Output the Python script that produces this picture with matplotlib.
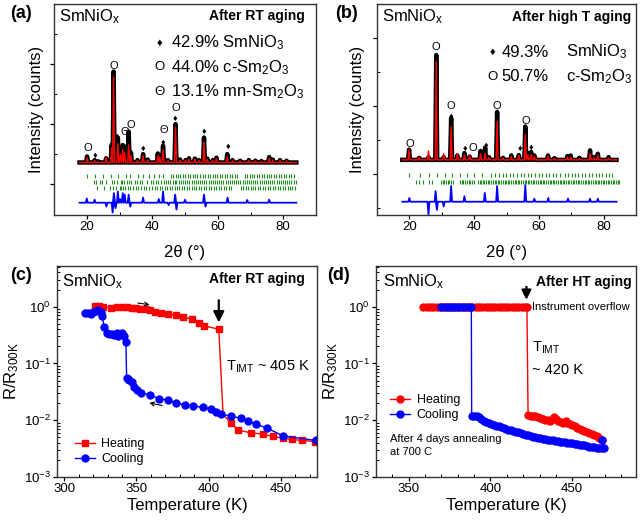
import matplotlib
matplotlib.use("Agg")
import matplotlib.pyplot as plt
from matplotlib.ticker import MultipleLocator, LogLocator, NullFormatter

plt.rcParams['font.family'] = ['Liberation Sans', 'DejaVu Sans']
plt.rcParams['mathtext.fontset'] = 'custom'
plt.rcParams['mathtext.rm'] = 'Liberation Sans'
plt.rcParams['mathtext.it'] = 'Liberation Sans:italic'
plt.rcParams['mathtext.bf'] = 'Liberation Sans:bold'

# ---------------- (a) XRD after RT aging ----------------
a_range = (17.8, 84.0)
a_bg = 0.72
a_pk_pos = [20.1, 22.4, 23.5, 25.9, 27.6, 28.2, 29.5, 30.3, 31.0, 31.6, 32.8, 33.5,
            35.5, 37.2, 38.6, 41.7, 42.3, 43.3, 44.8, 47.1, 48.5, 50.2, 51.2, 53.0,
            54.2, 55.8, 56.8, 58.5, 59.6, 62.9, 64.5, 66.8, 69.5, 71.5, 73.3, 75.7,
            76.8, 79.0, 81.0]
a_pk_obs = [0.92, 0.80, 0.76, 0.86, 1.30, 3.75, 1.55, 1.10, 1.30, 1.25, 1.75, 1.05,
            0.80, 1.00, 0.82, 1.02, 0.95, 1.28, 0.80, 2.00, 0.82, 0.80, 0.86, 0.85,
            0.80, 1.55, 0.85, 0.80, 0.88, 1.00, 0.80, 0.78, 0.80, 0.78, 0.77, 0.90,
            0.82, 0.80, 0.78]
a_pk_calc = [0.88, 0.78, 0.74, 0.88, 1.20, 3.55, 1.35, 1.00, 1.15, 1.05, 1.30, 0.95,
             0.78, 0.95, 0.80, 0.95, 0.90, 1.15, 0.78, 1.90, 0.80, 0.80, 0.82, 0.83,
             0.78, 1.40, 0.82, 0.79, 0.85, 0.92, 0.78, 0.77, 0.79, 0.77, 0.76, 0.86,
             0.80, 0.78, 0.77]
a_diff_base = -0.62
a_diff_pos = [20.0, 22.4, 26.0, 27.9, 28.3, 28.8, 29.5, 30.2, 31.0, 31.6, 32.8, 33.3,
              37.2, 42.0, 43.3, 45.0, 47.0, 47.4, 50.0, 55.8, 56.3, 63.0, 69.0, 75.7]
a_diff_val = [-0.48, -0.52, -0.75, -0.95, -0.30, -0.80, -0.25, -0.50, -0.30, -0.35,
              -0.35, -0.75, -0.45, -0.50, -0.25, -0.70, -0.35, -0.85, -0.52, -0.35,
              -0.75, -0.45, -0.53, -0.52]
a_ticks_y = [0.27, 0.08, -0.13]
a_ticks_1 = [20.1, 22.4, 24.9, 27.4, 29.6, 32.0, 33.1, 35.5, 37.3, 39.0, 40.6, 42.1,
             43.4, 45.6, 46.3, 47.1, 47.8, 48.6, 49.3, 50.1, 50.8, 51.6, 52.3, 53.1,
             53.8, 54.6, 55.4, 56.1, 56.9, 57.6, 58.4, 59.1, 59.9, 60.6, 61.4, 62.2,
             62.9, 63.7, 64.4, 65.2, 65.9, 68.2, 68.9, 69.7, 70.4, 71.2, 71.9, 72.7,
             73.4, 74.2, 74.9, 75.7, 76.4, 77.2, 77.9, 78.7, 79.4, 80.2, 80.9, 81.7,
             82.4, 83.2]
a_ticks_2 = [22.1, 22.9, 23.9, 24.6, 26.0, 27.6, 28.3, 29.1, 30.4, 30.9, 31.4, 32.2,
             32.8, 33.5, 34.6, 35.2, 36.4, 37.0, 38.5, 39.7, 40.3, 41.2, 41.9, 42.8,
             43.5, 44.1, 44.9, 45.5, 46.2, 46.8, 47.4, 48.1, 48.7, 49.4, 50.0, 50.7,
             51.3, 52.0, 52.6, 53.3, 53.9, 54.6, 55.2, 55.9, 56.5, 57.2, 57.8, 58.5,
             59.1, 59.8, 60.4, 61.1, 61.7, 62.4, 63.0, 63.7, 64.3, 65.0, 65.6, 66.3,
             66.9, 67.6, 68.2, 68.9, 69.5, 70.2, 70.8, 71.5, 72.1, 72.8, 73.4, 74.1,
             74.7, 75.4, 76.0, 76.7, 77.3, 78.0, 78.6, 79.3, 79.9, 80.6, 81.2, 81.9,
             82.5, 83.2, 83.8]
a_ticks_3 = [23.0, 25.2, 27.1, 28.0, 28.9, 30.0, 30.6, 31.2, 31.8, 32.5, 33.2, 34.0,
             35.0, 35.8, 36.7, 37.5, 38.2, 39.0, 40.0, 40.8, 41.5, 42.3, 43.0, 43.8,
             44.5, 45.3, 46.0, 46.8, 47.5, 48.3, 49.0, 49.8, 50.5, 51.3, 52.0, 52.8,
             53.5, 54.3, 55.0, 55.8, 56.5, 57.3, 58.0, 58.8, 59.5, 60.3, 61.0, 61.8,
             62.5, 63.3, 64.0, 67.0, 67.8, 68.5, 69.3, 70.0, 70.8, 71.5, 72.3, 73.0,
             73.8, 74.5, 75.3, 76.0, 76.8, 77.5, 78.3, 79.0, 79.8, 80.5, 81.3, 82.0,
             82.8, 83.5]
# peak markers: (2theta, height, symbol)
a_mark_x = [20.2, 22.4, 28.2, 29.1, 31.5, 33.6, 37.3, 43.4, 43.4, 47.1, 47.1, 55.9, 63.2]
a_mark_y = [1.20, 0.97, 3.95, 1.58, 1.72, 1.98, 1.20, 1.80, 1.40, 2.52, 2.20, 1.76, 1.26]
a_mark_s = ['O', '♦', 'O', '♦', 'Θ', 'O', '♦', 'Θ', '♦', 'O', '♦', '♦', '♦']

# ---------------- (b) XRD after high T aging ----------------
b_range = (17.8, 84.0)
b_bg = 0.42
b_pk_pos = [19.9, 23.0, 25.9, 28.3, 30.6, 32.9, 34.8, 37.0, 38.6, 42.0, 43.4, 44.6,
            47.1, 48.9, 51.5, 53.8, 55.8, 56.6, 57.6, 58.6, 62.8, 64.8, 68.8, 69.8,
            72.5, 75.8, 77.0, 78.2, 81.5]
b_pk_obs = [0.72, 0.48, 0.50, 3.50, 0.50, 1.65, 0.55, 0.62, 0.52, 0.68, 0.78, 0.50,
            1.83, 0.48, 0.55, 0.56, 1.40, 0.62, 0.65, 0.55, 0.55, 0.47, 0.53, 0.55,
            0.48, 0.70, 0.50, 0.60, 0.50]
b_pk_calc = [0.72, 0.50, 0.68, 3.30, 0.60, 1.40, 0.60, 0.58, 0.55, 0.60, 0.62, 0.48,
             1.55, 0.47, 0.52, 0.55, 1.15, 0.58, 0.58, 0.52, 0.52, 0.46, 0.50, 0.50,
             0.46, 0.60, 0.48, 0.55, 0.47]
b_diff_base = -0.81
b_diff_pos = [20.0, 25.9, 28.1, 28.5, 30.6, 32.9, 37.0, 43.3, 47.1, 55.8, 58.6, 62.9,
              69.0, 75.8, 78.2]
b_diff_val = [-0.70, -1.18, -0.50, -1.05, -0.95, -0.35, -0.65, -0.55, -0.35, -0.32,
              -0.72, -0.70, -0.72, -0.72, -0.72]
b_ticks_y = [-0.03, -0.23]
b_ticks_1 = [20.0, 23.4, 26.2, 28.6, 31.0, 33.3, 35.6, 37.9, 40.1, 42.4, 45.3, 46.5,
             47.6, 48.8, 49.9, 51.0, 52.1, 53.3, 54.4, 55.5, 56.6, 57.7, 58.8, 59.9,
             61.0, 62.1, 63.2, 64.3, 65.4, 66.5, 68.0, 69.1, 70.1, 71.2, 72.2, 73.3,
             74.3, 75.4, 76.4, 77.5, 78.5, 79.6, 80.6, 81.7, 82.6]
b_ticks_2 = [21.9, 23.1, 24.3, 26.1, 27.0, 29.8, 30.3, 30.8, 31.3, 31.8, 32.3, 33.0,
             33.6, 35.7, 36.2, 36.7, 37.3, 37.8, 38.3, 38.8, 39.3, 40.0, 41.2, 41.7,
             42.2, 42.7, 43.2, 43.7, 44.2, 44.7, 45.2, 45.8, 46.3, 46.8, 47.3, 47.8,
             48.4, 48.9, 49.4, 49.9, 50.4, 50.9, 51.4, 52.0, 52.5, 53.0, 53.5, 54.0,
             54.5, 55.0, 55.6, 56.1, 56.6, 57.1, 57.6, 58.1, 58.6, 59.2, 59.7, 60.2,
             60.7, 61.2, 61.7, 62.2, 62.8, 63.3, 63.8, 64.3, 64.8, 65.3, 65.8, 66.4,
             66.9, 67.4, 67.9, 68.4, 68.9, 69.4, 70.0, 70.5, 71.0, 71.5, 72.0, 72.5,
             73.0, 73.6, 74.1, 74.6, 75.1, 75.6, 76.1, 76.6, 77.2, 77.7, 78.2, 78.7,
             79.2, 79.7, 80.2, 80.8, 81.3, 81.8, 82.3, 82.8, 83.3, 83.8, 84.4, 84.9]
b_mark_x = [20.0, 28.3, 32.9, 32.9, 37.1, 39.5, 43.7, 47.1, 54.3, 55.9, 57.6]
b_mark_y = [0.90, 3.75, 2.00, 1.70, 0.75, 0.77, 0.86, 2.00, 0.75, 1.55, 0.80]
b_mark_s = ['O', 'O', 'O', '♦', '♦', 'O', '♦', 'O', '♦', 'O', '♦']

# ---------------- (c) R/R300K after RT aging ----------------
heat_T_c = [321.3, 324.3, 327.1, 332.4, 336.3, 340.4, 343.6, 346.6, 349.6, 352.8,
            356.5, 359.2, 362.7, 366.8, 371.8, 377.1, 382.2, 388.6, 393.2, 397.1,
            407.0, 410.0, 415.5, 420.1, 429.3, 437.3, 444.2, 451.5, 457.5, 464.8, 473.6]
heat_R_c = [1.03, 1.03, 1.00, 0.95, 0.97, 0.97, 0.97, 0.95, 0.94, 0.91,
            0.90, 0.86, 0.80, 0.77, 0.74, 0.71, 0.66, 0.60, 0.51, 0.46,
            0.40, 0.0125, 0.0090, 0.0067, 0.0060, 0.0057, 0.0052, 0.0048, 0.0046,
            0.0044, 0.0042]
cool_T_c = [474.0, 451.5, 440.7, 433.1, 426.9, 422.4, 415.5, 408.6, 405.2, 401.7,
            396.4, 389.1, 383.3, 377.6, 371.8, 365.6, 359.2, 353.5, 350.5, 348.2,
            346.6, 345.0, 343.9, 343.2, 342.7, 341.3, 339.7, 337.4, 336.3, 334.4,
            332.8, 331.2, 329.4, 327.5, 326.4, 325.2, 323.7, 322.0, 320.2, 318.4,
            316.8, 314.5]
cool_R_c = [0.0044, 0.0053, 0.0072, 0.0085, 0.0096, 0.0108, 0.0118, 0.0128, 0.0141,
            0.0155, 0.0168, 0.0178, 0.0185, 0.0203, 0.0226, 0.0240, 0.0280, 0.0300,
            0.0340, 0.0390, 0.0480, 0.0510, 0.0540, 0.0560, 0.24, 0.30, 0.34, 0.30,
            0.34, 0.32, 0.33, 0.33, 0.35, 0.44, 0.69, 0.80, 0.87, 0.85, 0.82, 0.74,
            0.76, 0.78]

# ---------------- (d) R/R300K after HT aging ----------------
heat_T_d = [359, 361, 363, 365, 367, 369, 371, 373, 375, 377, 379, 381, 383, 385,
            387, 389, 391, 393, 395, 397, 399, 401, 403, 405, 407, 409, 411, 413,
            415, 417, 419, 421, 422.3,
            423.0, 424.5, 426.0, 427.5, 429.0, 430.5, 432.0, 433.5, 435.0, 436.5,
            438.0, 439.0, 440.0, 441.5, 443.0, 444.5, 446.0, 447.0, 448.5, 450.0,
            451.5, 453.0, 454.5, 456.0, 457.5, 459.0, 460.5, 462.0, 463.5, 465.0,
            466.5, 468.0]
heat_R_d = [1.0] * 33 + [
            0.0123, 0.0120, 0.0121, 0.0117, 0.0112, 0.0108, 0.0104, 0.0101, 0.0099,
            0.0098, 0.0103, 0.0112, 0.0106, 0.0098, 0.0093, 0.0090, 0.0095, 0.0088,
            0.0086, 0.0082, 0.0078, 0.0072, 0.0069, 0.0066, 0.0064, 0.0062, 0.0060,
            0.0058, 0.0056, 0.0053, 0.0049, 0.0045]
cool_T_d = [468.2, 469.3, 468.0, 466.5, 465.0, 463.5, 462.0, 460.5, 459.0, 457.5,
            456.0, 454.5, 453.0, 451.5, 450.0, 448.5, 447.0, 445.5, 444.0, 442.5,
            441.0, 439.5, 438.0, 436.5, 435.0, 433.5, 432.0, 430.5, 429.0, 427.5,
            426.0, 424.5, 423.0, 421.5, 420.0, 418.5, 417.0, 415.5, 414.0, 412.5,
            411.0, 409.5, 408.0, 406.5, 405.0, 403.5, 402.0, 400.5, 399.0, 397.5,
            396.0, 394.5, 393.0, 391.5, 390.0, 388.5,
            388.3, 386, 384, 382, 380, 378, 376, 374, 372, 370]
cool_R_d = [0.0045, 0.0033, 0.0033, 0.0033, 0.0033, 0.0034, 0.0034, 0.0034, 0.0035,
            0.0036, 0.0037, 0.0037, 0.0038, 0.0038, 0.0039, 0.0039, 0.0040, 0.0041,
            0.0041, 0.0042, 0.0043, 0.0043, 0.0044, 0.0045, 0.0045, 0.0046, 0.0047,
            0.0048, 0.0049, 0.0050, 0.0051, 0.0053, 0.0054, 0.0056, 0.0058, 0.0059,
            0.0061, 0.0062, 0.0064, 0.0066, 0.0068, 0.0070, 0.0073, 0.0076, 0.0078,
            0.0080, 0.0083, 0.0086, 0.0089, 0.0093, 0.0098, 0.0105, 0.0112, 0.0118,
            0.0120, 0.0121] + [1.0] * 10

W, H = 640, 526
fig = plt.figure(figsize=(W / 100, H / 100), dpi=100)


def add_ax(l, t, r, b):
    return fig.add_axes([l / W, 1 - b / H, (r - l) / W, (b - t) / H])


def spikes(x0, x1, bg, pos, hgt, hw=0.3):
    # background line with a narrow triangular spike for every peak
    xs, ys = [x0], [bg]
    for p, h in zip(pos, hgt):
        xs += [p - hw, p, p + hw]
        ys += [bg, h, bg]
    xs.append(x1)
    ys.append(bg)
    return xs, ys


def style_common(ax):
    for s in ax.spines.values():
        s.set_linewidth(1.0)
        s.set_color('#333333')
    ax.tick_params(which='both', labelsize=9.5, top=False, right=False, pad=1.5)
    # Origin look: major ticks outward, minor ticks inward
    ax.tick_params(which='major', direction='out', length=3, width=0.9)
    ax.tick_params(which='minor', direction='in', length=2, width=0.7)


def xrd_panel(ax, rng, bg, pos, obs, calc, dbase, dpos, dval, rows_y, rows, mx, my, ms,
              ylim, yminor):
    xo, yo = spikes(rng[0], rng[1], bg, pos, obs)
    xc, yc = spikes(rng[0], rng[1], bg, pos, calc)
    xd, yd = spikes(rng[0], rng[1], dbase, dpos, dval)
    ax.plot(xo, yo, color='black', lw=3.2, solid_joinstyle='round')
    ax.plot(xc, yc, color='#ff0000', lw=1.0)
    ax.plot(xd, yd, color='#0000ff', lw=1.3)
    for yy, row in zip(rows_y, rows):
        ax.vlines(row, yy - 0.065, yy + 0.065, color='#1f8f1f', lw=0.8)
    for x, y, s in zip(mx, my, ms):
        ax.text(x, y, s, ha='center', va='center',
                fontsize=6.5 if s == '♦' else 8)
    ax.set_xlim(10, 90)
    ax.set_ylim(*ylim)
    ax.xaxis.set_major_locator(MultipleLocator(20))
    ax.xaxis.set_minor_locator(MultipleLocator(10))
    ax.set_yticks([0, 2, 4])
    ax.set_yticks(yminor, minor=True)
    ax.set_yticklabels([])
    style_common(ax)
    ax.set_xlabel('2θ (°)', fontsize=12)
    ax.xaxis.label.set_va('center')
    ax.set_ylabel('Intensity (counts)', fontsize=12)
    ax.yaxis.label.set_va('center')


# (a)
ax_a = add_ax(54, 4, 316, 215)
xrd_panel(ax_a, a_range, a_bg, a_pk_pos, a_pk_obs, a_pk_calc, a_diff_base, a_diff_pos,
          a_diff_val, a_ticks_y, [a_ticks_1, a_ticks_2, a_ticks_3],
          a_mark_x, a_mark_y, a_mark_s, (-1.03, 6.0), [1, 3, 5])
ax_a.xaxis.set_label_coords(0.5, -0.18)
ax_a.yaxis.set_label_coords(-0.066, 0.5)
ax_a.text(0.02, 0.94, r'SmNiO$_{\rm x}$', transform=ax_a.transAxes, fontsize=12,
          va='center', ha='left')
ax_a.text(0.958, 0.945, 'After RT aging', transform=ax_a.transAxes, fontsize=10,
          fontweight='bold', va='center', ha='right')
for yy, sym, lab in [(0.815, '♦', r'42.9% SmNiO$_3$'),
                     (0.700, 'O', r'44.0% c-Sm$_2$O$_3$'),
                     (0.583, 'Θ', r'13.1% mn-Sm$_2$O$_3$')]:
    ax_a.text(0.403, yy, sym, transform=ax_a.transAxes, fontsize=8 if sym == '♦' else 9.5,
              ha='center', va='center')
    ax_a.text(0.445, yy, lab, transform=ax_a.transAxes, fontsize=12, ha='left', va='center')

# (b)
ax_b = add_ax(377, 4, 636, 215)
xrd_panel(ax_b, b_range, b_bg, b_pk_pos, b_pk_obs, b_pk_calc, b_diff_base, b_diff_pos,
          b_diff_val, b_ticks_y, [b_ticks_1, b_ticks_2],
          b_mark_x, b_mark_y, b_mark_s, (-1.2, 5.0), [-1, 1, 3])
ax_b.xaxis.set_label_coords(0.5, -0.18)
ax_b.yaxis.set_label_coords(-0.077, 0.5)
ax_b.text(0.02, 0.94, r'SmNiO$_{\rm x}$', transform=ax_b.transAxes, fontsize=12,
          va='center', ha='left')
ax_b.text(0.982, 0.94, 'After high T aging', transform=ax_b.transAxes, fontsize=10,
          fontweight='bold', va='center', ha='right')
for yy, sym, pct, lab in [(0.772, '♦', '49.3%', r'SmNiO$_3$'),
                          (0.655, 'O', '50.7%', r'c-Sm$_2$O$_3$')]:
    ax_b.text(0.445, yy, sym, transform=ax_b.transAxes, fontsize=8 if sym == '♦' else 9.5,
              ha='center', va='center')
    ax_b.text(0.48, yy, pct, transform=ax_b.transAxes, fontsize=12, ha='left', va='center')
    ax_b.text(0.73, yy, lab, transform=ax_b.transAxes, fontsize=12, ha='left', va='center')


def rt_panel(ax, xlim, xminor):
    ax.set_yscale('log')
    ax.set_ylim(1e-3, 5.2)
    ax.set_xlim(*xlim)
    ax.xaxis.set_major_locator(MultipleLocator(50))
    ax.xaxis.set_minor_locator(MultipleLocator(xminor))
    ax.yaxis.set_major_locator(LogLocator(base=10, numticks=10))
    ax.yaxis.set_minor_locator(LogLocator(base=10, subs=range(2, 10), numticks=10))
    ax.yaxis.set_minor_formatter(NullFormatter())
    style_common(ax)
    ax.set_xlabel('Temperature (K)', fontsize=12)
    ax.xaxis.label.set_va('center')
    ax.xaxis.set_label_coords(0.5, -0.135)
    ax.set_ylabel(r'R/R$_{\rm 300K}$', fontsize=12)
    ax.yaxis.label.set_va('center')
    ax.yaxis.set_label_coords(-0.173, 0.5)


# (c)
ax_c = add_ax(57, 266, 317, 477)
skip = [i for i in range(len(heat_T_c)) if i != 21]
ax_c.plot(heat_T_c, heat_R_c, color='#ff0000', lw=1.0, marker='s', ms=4.5,
          markevery=skip, label='Heating')
ax_c.plot(cool_T_c, cool_R_c, color='#0000ff', lw=1.0, marker='o', ms=5, label='Cooling')
rt_panel(ax_c, (295, 475), 10)
ax_c.annotate('', xy=(407, 0.47), xytext=(407, 1.45),
              arrowprops=dict(arrowstyle='-|>', color='black', lw=1.6, mutation_scale=16))
ax_c.annotate('', xy=(361, 1.06), xytext=(349, 1.18),
              arrowprops=dict(arrowstyle='->', color='black', lw=0.8, mutation_scale=7))
ax_c.annotate('', xy=(357, 0.0206), xytext=(369.6, 0.0178),
              arrowprops=dict(arrowstyle='->', color='black', lw=0.8, mutation_scale=7))
ax_c.text(412, 0.087, r'T$_{\rm IMT}$ ~ 405 K', fontsize=10.5, ha='left', va='center')
ax_c.text(0.02, 0.925, r'SmNiO$_{\rm x}$', transform=ax_c.transAxes, fontsize=12,
          va='center', ha='left')
ax_c.text(0.955, 0.94, 'After RT aging', transform=ax_c.transAxes, fontsize=10,
          fontweight='bold', va='center', ha='right')
ax_c.legend(loc='lower left', bbox_to_anchor=(0.07, 0.055), frameon=False, fontsize=9,
            handlelength=1.6, handletextpad=0.5, borderpad=0, borderaxespad=0,
            labelspacing=0.25)

# (d)
ax_d = add_ax(376, 266, 636, 477)
ax_d.plot(heat_T_d, heat_R_d, color='#ff0000', lw=1.0, marker='o', ms=5, label='Heating')
ax_d.plot(cool_T_d, cool_R_d, color='#0000ff', lw=1.0, marker='o', ms=5, label='Cooling')
rt_panel(ax_d, (330, 489), 10)
ax_d.annotate('', xy=(422, 1.18), xytext=(422, 2.5),
              arrowprops=dict(arrowstyle='-|>', color='black', lw=1.6, mutation_scale=14))
ax_d.text(425.5, 1.0, 'Instrument overflow', fontsize=8, ha='left', va='center')
ax_d.text(425.5, 0.185, r'T$_{\rm IMT}$', fontsize=10.5, ha='left', va='center')
ax_d.text(425.5, 0.076, '~ 420 K', fontsize=10.5, ha='left', va='center')
ax_d.text(0.055, 0.15, 'After 4 days annealing\nat 700 C', transform=ax_d.transAxes,
          fontsize=8, ha='left', va='center', linespacing=1.35)
ax_d.text(0.027, 0.925, r'SmNiO$_{\rm x}$', transform=ax_d.transAxes, fontsize=12,
          va='center', ha='left')
ax_d.text(0.985, 0.925, 'After HT aging', transform=ax_d.transAxes, fontsize=10,
          fontweight='bold', va='center', ha='right')
ax_d.legend(loc='lower left', bbox_to_anchor=(0.055, 0.265), frameon=False, fontsize=9,
            handlelength=1.6, handletextpad=0.5, borderpad=0, borderaxespad=0,
            labelspacing=0.25)

# panel letters
for lab, x, y in [('(a)', 10, 13), ('(b)', 335, 13), ('(c)', 10, 275), ('(d)', 327, 275)]:
    fig.text(x / W, 1 - y / H, lab, fontsize=13, fontweight='bold', ha='left', va='center')

fig.savefig('out.png', dpi=100, facecolor='white')
